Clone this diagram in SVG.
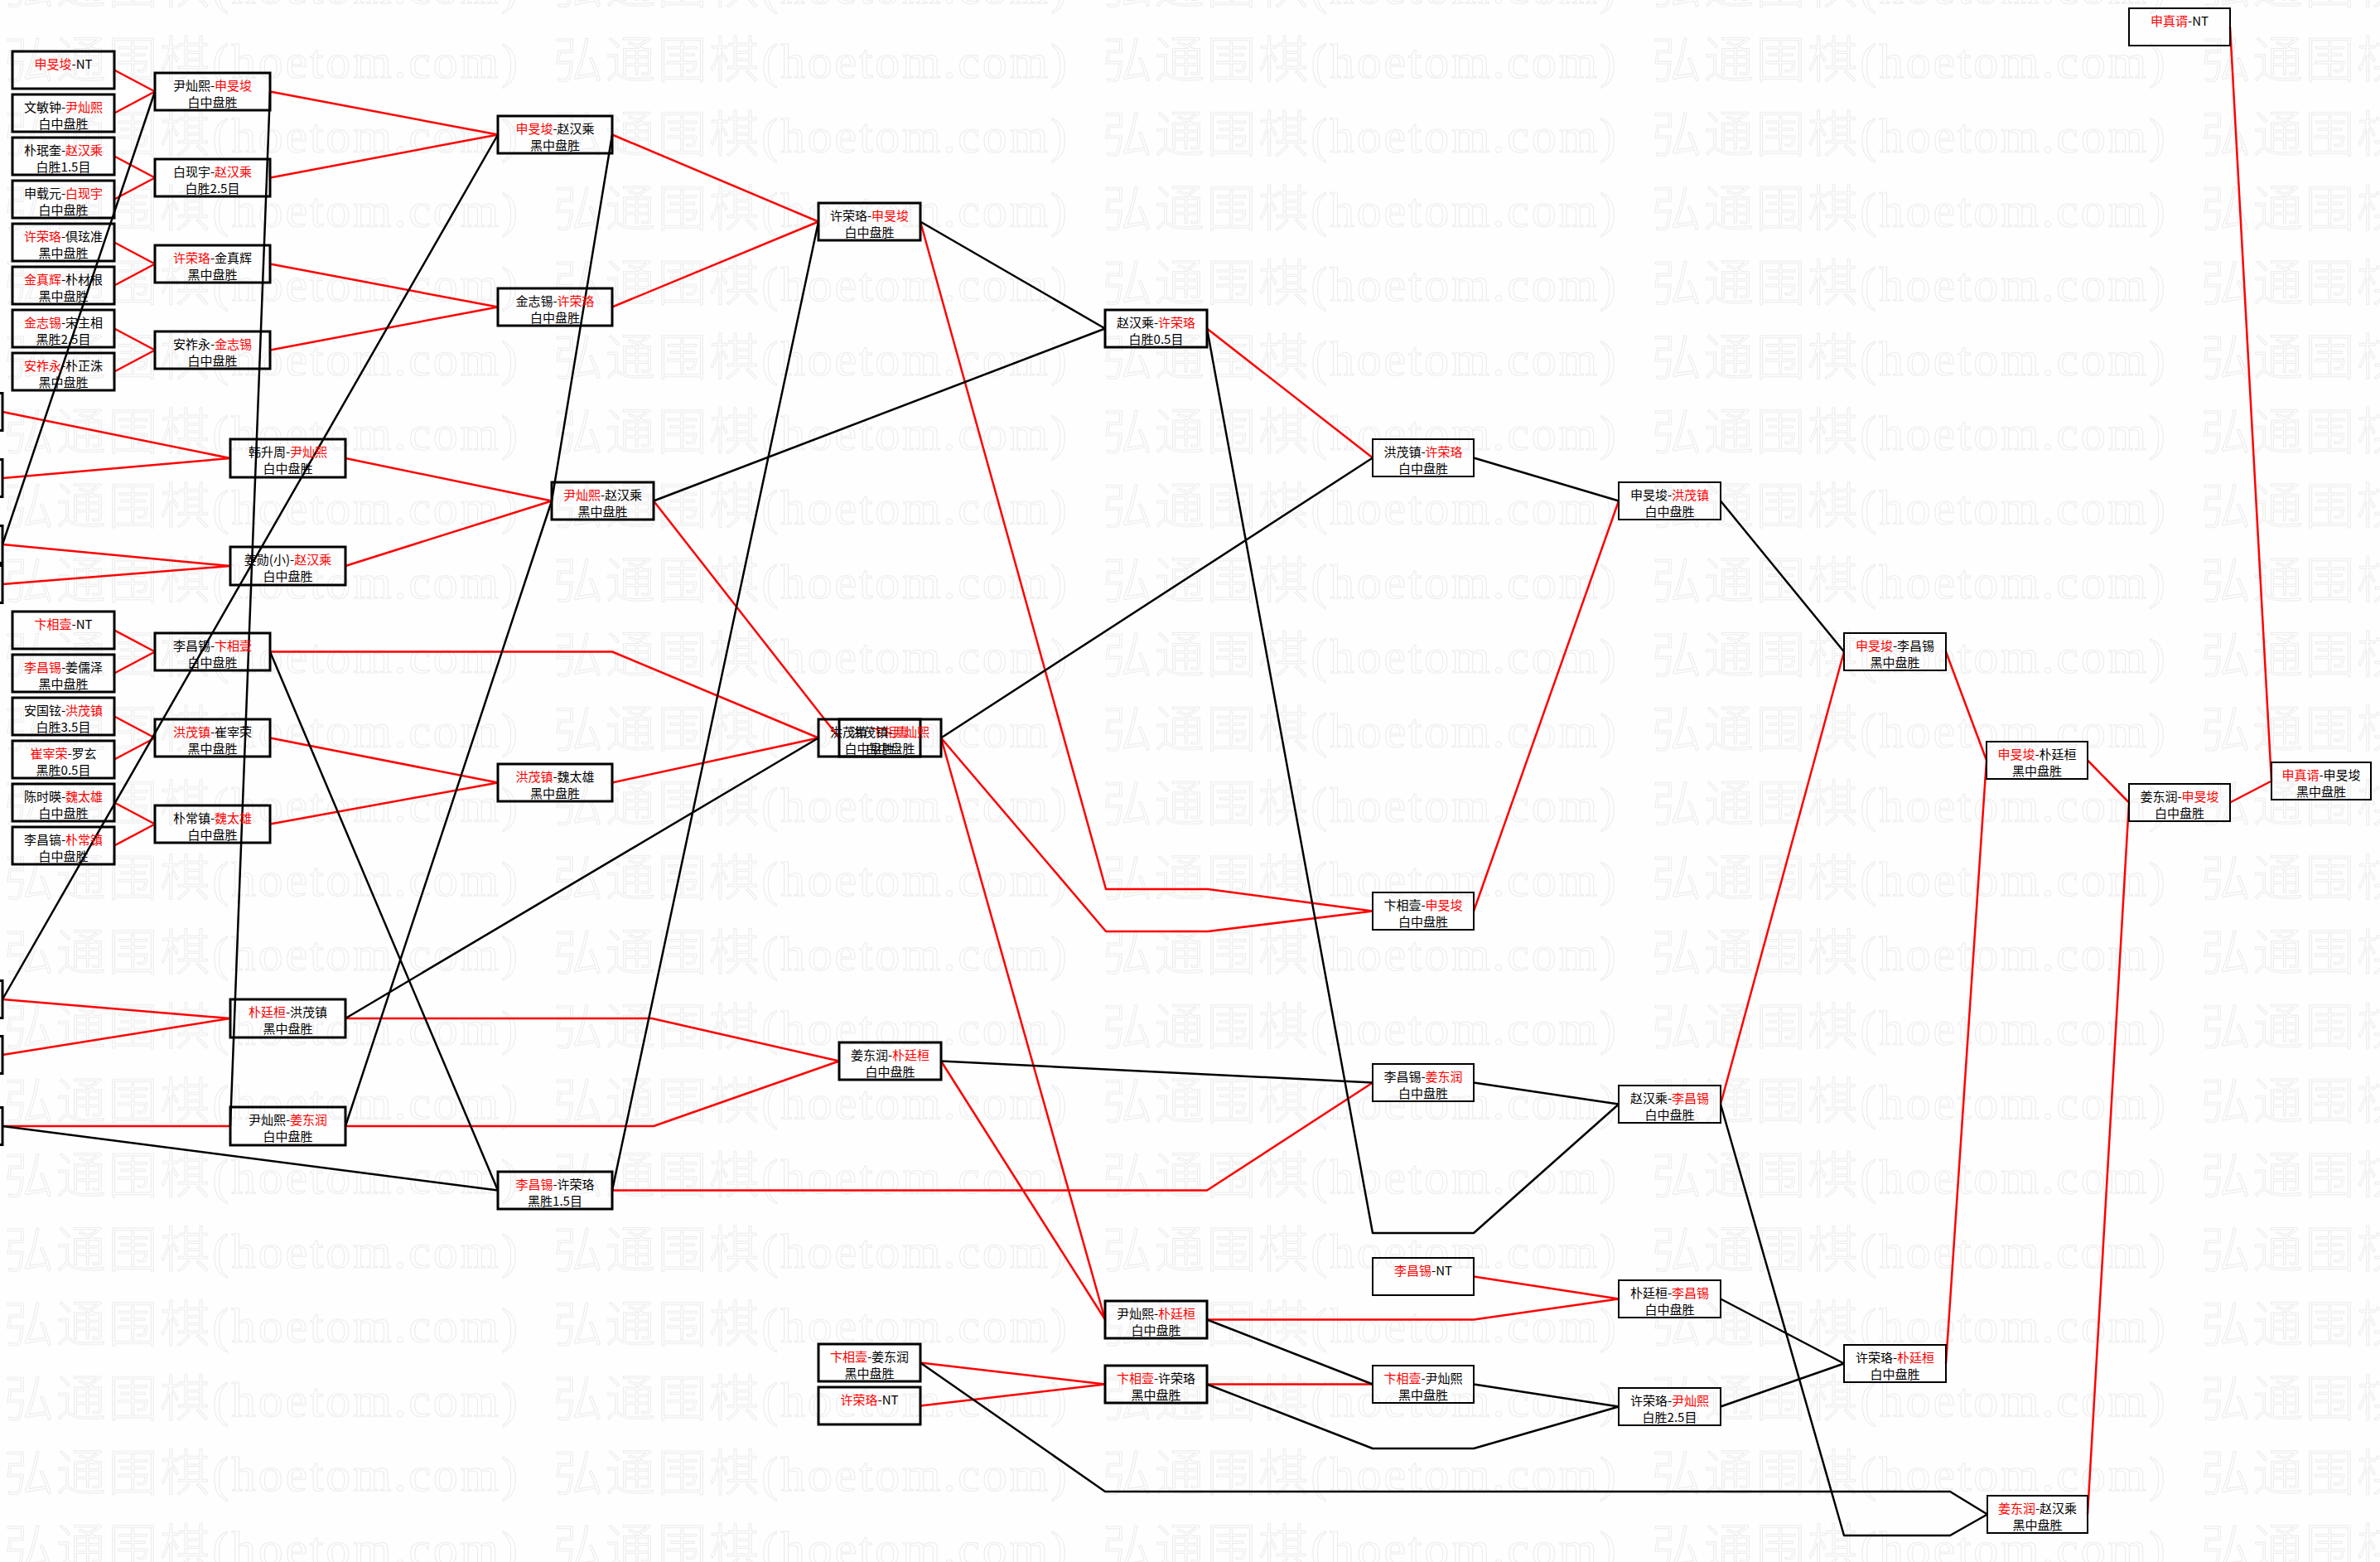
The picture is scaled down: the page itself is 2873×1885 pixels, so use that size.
<svg xmlns="http://www.w3.org/2000/svg" width="2873" height="1885" viewBox="0 0 2873 1885">
<style>
.n rect{fill:none;stroke:#000;stroke-width:3}
.s rect{stroke-width:2}
.t{font-family:"Noto Sans CJK SC","Noto Sans CJK JP",sans-serif;font-size:15px;fill:#000;text-anchor:middle}
.r{fill:#f00}
.lr{fill:none;stroke:#f00;stroke-width:2.5;stroke-linejoin:round}
.lb{fill:none;stroke:#000;stroke-width:2.5;stroke-linejoin:round}
.wm{font-family:"Liberation Serif","Noto Sans CJK SC",serif;font-size:60px;font-weight:300;fill:none;stroke:#ebebeb;stroke-width:1}
</style>
<defs>
<pattern id="wmp" patternUnits="userSpaceOnUse" x="5" y="36" width="663" height="89.75">
<text class="wm" x="0" y="58" textLength="620" lengthAdjust="spacing">弘通围棋(hoetom.com)</text>
</pattern>
</defs>
<rect x="0" y="0" width="2873" height="1885" fill="#fefefe"/>
<rect x="0" y="0" width="2873" height="1885" fill="url(#wmp)"/>
<g id="connectors">
<g class="lr">
<path d="M138 84.5L187 110.5M138 136.5L187 110.5M138 188.5L187 214.5M138 240.5L187 214.5M138 292.5L187 318.5M138 344.5L187 318.5M138 396.5L187 422.5M138 448.5L187 422.5"/>
<path d="M138 760.5L187 786.5M138 812.5L187 786.5M138 864.5L187 890.5M138 916.5L187 890.5M138 968.5L187 994.5M138 1020.5L187 994.5"/>
<path d="M326 110.5L601 162.5M326 214.5L601 162.5M326 318.5L601 370.5M326 422.5L601 370.5M739 162.5L988 267.5M739 370.5L988 267.5"/>
<path d="M3 497L278 553M3 577L278 553M3 657L278 683M3 705L278 683M417 553L666 604.5M417 683L666 604.5"/>
<path d="M326 890.5L601 944.5M326 994.5L601 944.5M326 786.5L739 786.5L988 890.5M739 944.5L988 890.5M789 604.5L1013 890.5"/>
<path d="M3 1206L278 1229M3 1273L278 1229M3 1359L278 1359M417 1229L787 1229L1013 1280.5M417 1359L789 1359L1013 1280.5"/>
<path d="M739 1436.5L1457 1436.5L1657 1306.5M1111 267.5L1335 1073L1458 1073L1657 1099.5M1136 890.5L1335 1124L1458 1124L1657 1099.5M1136 890.5L1334 1592.5M1136 1280.5L1334 1592.5"/>
<path d="M1457 396.5L1657 552.5M1779 1099.5L1954 604.5M2077 1332.5L2226 786.5M2349 786.5L2398 917.5M2349 1645.5L2398 917.5M2520 917.5L2570 968.5M2520 1827.5L2570 968.5M2692 968.5L2742 942.5M2692 32.5L2742 942.5"/>
<path d="M1779 1540.5L1954 1567.5M1457 1592.5L1779 1592.5L1954 1567.5M1111 1644.5L1334 1670.5M1111 1696.5L1334 1670.5M1457 1670.5L1657 1670.5"/>
</g>
<g class="lb">
<path d="M187 110.5L3 657M326 110.5L278 1359M601 162.5L3 1206M739 162.5L666 604.5L417 1359M326 786.5L601 1436.5M417 1229L988 890.5M739 1436.5L988 267.5M3 1359L601 1436.5"/>
<path d="M1111 267.5L1334 396.5M789 604.5L1334 396.5M1136 890.5L1657 552.5M1457 396.5L1657 1488L1779 1488L1954 1332.5M1779 552.5L1954 604.5M2077 604.5L2226 786.5"/>
<path d="M1136 1280.5L1657 1306.5M1779 1306.5L1954 1332.5M1457 1592.5L1657 1670.5M1457 1670.5L1657 1748L1779 1748L1954 1697.5M1779 1670.5L1954 1697.5M2077 1697.5L2226 1645.5M2077 1567.5L2226 1645.5"/>
<path d="M1111 1644.5L1334 1800L2354 1800L2399 1827.5M2077 1332.5L2226 1853L2354 1853L2399 1827.5"/>
</g>
</g>
<g id="edge-boxes" class="n">
<g id="x1"><rect x="-121" y="474.5" width="124" height="45"/></g>
<g id="x2"><rect x="-121" y="554.5" width="124" height="45"/></g>
<g id="x3"><rect x="-121" y="634.5" width="124" height="45"/></g>
<g id="x4"><rect x="-121" y="682.5" width="124" height="45"/></g>
<g id="x5"><rect x="-121" y="1183.5" width="124" height="45"/></g>
<g id="x6"><rect x="-121" y="1250.5" width="124" height="45"/></g>
<g id="x7"><rect x="-121" y="1336.5" width="124" height="45"/></g>
</g>
<g id="n1" class="n"><rect x="15" y="62" width="123" height="45"/><text class="t" x="76.5" y="83"><tspan class="r">申旻埈</tspan>-NT</text></g>
<g id="n2" class="n"><rect x="15" y="114" width="123" height="45"/><text class="t" x="76.5" y="135">文敏钟-<tspan class="r">尹灿熙</tspan></text><text class="t" x="76.5" y="155">白中盘胜</text></g>
<g id="n3" class="n"><rect x="15" y="166" width="123" height="45"/><text class="t" x="76.5" y="187">朴珉奎-<tspan class="r">赵汉乘</tspan></text><text class="t" x="76.5" y="207">白胜1.5目</text></g>
<g id="n4" class="n"><rect x="15" y="218" width="123" height="45"/><text class="t" x="76.5" y="239">申载元-<tspan class="r">白现宇</tspan></text><text class="t" x="76.5" y="259">白中盘胜</text></g>
<g id="n5" class="n"><rect x="15" y="270" width="123" height="45"/><text class="t" x="76.5" y="291"><tspan class="r">许荣珞</tspan>-倶玹准</text><text class="t" x="76.5" y="311">黑中盘胜</text></g>
<g id="n6" class="n"><rect x="15" y="322" width="123" height="45"/><text class="t" x="76.5" y="343"><tspan class="r">金真辉</tspan>-朴材根</text><text class="t" x="76.5" y="363">黑中盘胜</text></g>
<g id="n7" class="n"><rect x="15" y="374" width="123" height="45"/><text class="t" x="76.5" y="395"><tspan class="r">金志锡</tspan>-宋主相</text><text class="t" x="76.5" y="415">黑胜2.5目</text></g>
<g id="n8" class="n"><rect x="15" y="426" width="123" height="45"/><text class="t" x="76.5" y="447"><tspan class="r">安祚永</tspan>-朴正洙</text><text class="t" x="76.5" y="467">黑中盘胜</text></g>
<g id="n9" class="n"><rect x="15" y="738" width="123" height="45"/><text class="t" x="76.5" y="759"><tspan class="r">卞相壹</tspan>-NT</text></g>
<g id="n10" class="n"><rect x="15" y="790" width="123" height="45"/><text class="t" x="76.5" y="811"><tspan class="r">李昌锡</tspan>-姜儒泽</text><text class="t" x="76.5" y="831">黑中盘胜</text></g>
<g id="n11" class="n"><rect x="15" y="842" width="123" height="45"/><text class="t" x="76.5" y="863">安国铉-<tspan class="r">洪茂镇</tspan></text><text class="t" x="76.5" y="883">白胜3.5目</text></g>
<g id="n12" class="n"><rect x="15" y="894" width="123" height="45"/><text class="t" x="76.5" y="915"><tspan class="r">崔宰荣</tspan>-罗玄</text><text class="t" x="76.5" y="935">黑胜0.5目</text></g>
<g id="n13" class="n"><rect x="15" y="946" width="123" height="45"/><text class="t" x="76.5" y="967">陈时暎-<tspan class="r">魏太雄</tspan></text><text class="t" x="76.5" y="987">白中盘胜</text></g>
<g id="n14" class="n"><rect x="15" y="998" width="123" height="45"/><text class="t" x="76.5" y="1019">李昌镐-<tspan class="r">朴常镇</tspan></text><text class="t" x="76.5" y="1039">白中盘胜</text></g>
<g id="m1" class="n"><rect x="187" y="88" width="139" height="45"/><text class="t" x="256.5" y="109">尹灿熙-<tspan class="r">申旻埈</tspan></text><text class="t" x="256.5" y="129">白中盘胜</text></g>
<g id="m2" class="n"><rect x="187" y="192" width="139" height="45"/><text class="t" x="256.5" y="213">白现宇-<tspan class="r">赵汉乘</tspan></text><text class="t" x="256.5" y="233">白胜2.5目</text></g>
<g id="m3" class="n"><rect x="187" y="296" width="139" height="45"/><text class="t" x="256.5" y="317"><tspan class="r">许荣珞</tspan>-金真辉</text><text class="t" x="256.5" y="337">黑中盘胜</text></g>
<g id="m4" class="n"><rect x="187" y="400" width="139" height="45"/><text class="t" x="256.5" y="421">安祚永-<tspan class="r">金志锡</tspan></text><text class="t" x="256.5" y="441">白中盘胜</text></g>
<g id="m5" class="n"><rect x="187" y="764" width="139" height="45"/><text class="t" x="256.5" y="785">李昌锡-<tspan class="r">卞相壹</tspan></text><text class="t" x="256.5" y="805">白中盘胜</text></g>
<g id="m6" class="n"><rect x="187" y="868" width="139" height="45"/><text class="t" x="256.5" y="889"><tspan class="r">洪茂镇</tspan>-崔宰荣</text><text class="t" x="256.5" y="909">黑中盘胜</text></g>
<g id="m7" class="n"><rect x="187" y="972" width="139" height="45"/><text class="t" x="256.5" y="993">朴常镇-<tspan class="r">魏太雄</tspan></text><text class="t" x="256.5" y="1013">白中盘胜</text></g>
<g id="k1" class="n"><rect x="278" y="530" width="139" height="46"/><text class="t" x="347.5" y="551">韩升周-<tspan class="r">尹灿熙</tspan></text><text class="t" x="347.5" y="571">白中盘胜</text></g>
<g id="k2" class="n"><rect x="278" y="660" width="139" height="46"/><text class="t" x="347.5" y="681">姜勋(小)-<tspan class="r">赵汉乘</tspan></text><text class="t" x="347.5" y="701">白中盘胜</text></g>
<g id="k3" class="n"><rect x="278" y="1206" width="139" height="46"/><text class="t" x="347.5" y="1227"><tspan class="r">朴廷桓</tspan>-洪茂镇</text><text class="t" x="347.5" y="1247">黑中盘胜</text></g>
<g id="k4" class="n"><rect x="278" y="1336" width="139" height="46"/><text class="t" x="347.5" y="1357">尹灿熙-<tspan class="r">姜东润</tspan></text><text class="t" x="347.5" y="1377">白中盘胜</text></g>
<g id="c1" class="n"><rect x="601" y="140" width="138" height="45"/><text class="t" x="670" y="161"><tspan class="r">申旻埈</tspan>-赵汉乘</text><text class="t" x="670" y="181">黑中盘胜</text></g>
<g id="c2" class="n"><rect x="601" y="348" width="138" height="45"/><text class="t" x="670" y="369">金志锡-<tspan class="r">许荣珞</tspan></text><text class="t" x="670" y="389">白中盘胜</text></g>
<g id="c3" class="n"><rect x="601" y="922" width="138" height="45"/><text class="t" x="670" y="943"><tspan class="r">洪茂镇</tspan>-魏太雄</text><text class="t" x="670" y="963">黑中盘胜</text></g>
<g id="c4" class="n"><rect x="601" y="1414" width="138" height="45"/><text class="t" x="670" y="1435"><tspan class="r">李昌锡</tspan>-许荣珞</text><text class="t" x="670" y="1455">黑胜1.5目</text></g>
<g id="c5" class="n"><rect x="666" y="582" width="123" height="45"/><text class="t" x="727.5" y="603"><tspan class="r">尹灿熙</tspan>-赵汉乘</text><text class="t" x="727.5" y="623">黑中盘胜</text></g>
<g id="d1" class="n"><rect x="988" y="245" width="123" height="45"/><text class="t" x="1049.5" y="266">许荣珞-<tspan class="r">申旻埈</tspan></text><text class="t" x="1049.5" y="286">白中盘胜</text></g>
<g id="d2" class="n"><rect x="988" y="868" width="123" height="45"/><text class="t" x="1049.5" y="889">洪茂镇-<tspan class="r">卞相壹</tspan></text><text class="t" x="1049.5" y="909">白中盘胜</text></g>
<g id="d3" class="n"><rect x="1013" y="868" width="123" height="45"/><text class="t" x="1074.5" y="889">洪茂镇-<tspan class="r">尹灿熙</tspan></text><text class="t" x="1074.5" y="909">白中盘胜</text></g>
<g id="d4" class="n"><rect x="1013" y="1258" width="123" height="45"/><text class="t" x="1074.5" y="1279">姜东润-<tspan class="r">朴廷桓</tspan></text><text class="t" x="1074.5" y="1299">白中盘胜</text></g>
<g id="d5" class="n"><rect x="988" y="1622" width="123" height="45"/><text class="t" x="1049.5" y="1643"><tspan class="r">卞相壹</tspan>-姜东润</text><text class="t" x="1049.5" y="1663">黑中盘胜</text></g>
<g id="d6" class="n"><rect x="988" y="1674" width="123" height="45"/><text class="t" x="1049.5" y="1695"><tspan class="r">许荣珞</tspan>-NT</text></g>
<g id="e1" class="n"><rect x="1334" y="374" width="123" height="45"/><text class="t" x="1395.5" y="395">赵汉乘-<tspan class="r">许荣珞</tspan></text><text class="t" x="1395.5" y="415">白胜0.5目</text></g>
<g id="e2" class="n"><rect x="1334" y="1570" width="123" height="45"/><text class="t" x="1395.5" y="1591">尹灿熙-<tspan class="r">朴廷桓</tspan></text><text class="t" x="1395.5" y="1611">白中盘胜</text></g>
<g id="e3" class="n"><rect x="1334" y="1648" width="123" height="45"/><text class="t" x="1395.5" y="1669"><tspan class="r">卞相壹</tspan>-许荣珞</text><text class="t" x="1395.5" y="1689">黑中盘胜</text></g>
<g id="f1" class="n s"><rect x="1657" y="530" width="122" height="45"/><text class="t" x="1718" y="551">洪茂镇-<tspan class="r">许荣珞</tspan></text><text class="t" x="1718" y="571">白中盘胜</text></g>
<g id="f2" class="n s"><rect x="1657" y="1077" width="122" height="45"/><text class="t" x="1718" y="1098">卞相壹-<tspan class="r">申旻埈</tspan></text><text class="t" x="1718" y="1118">白中盘胜</text></g>
<g id="f3" class="n s"><rect x="1657" y="1284" width="122" height="45"/><text class="t" x="1718" y="1305">李昌锡-<tspan class="r">姜东润</tspan></text><text class="t" x="1718" y="1325">白中盘胜</text></g>
<g id="f4" class="n s"><rect x="1657" y="1518" width="122" height="45"/><text class="t" x="1718" y="1539"><tspan class="r">李昌锡</tspan>-NT</text></g>
<g id="f5" class="n s"><rect x="1657" y="1648" width="122" height="45"/><text class="t" x="1718" y="1669"><tspan class="r">卞相壹</tspan>-尹灿熙</text><text class="t" x="1718" y="1689">黑中盘胜</text></g>
<g id="g1" class="n s"><rect x="1954" y="582" width="123" height="45"/><text class="t" x="2015.5" y="603">申旻埈-<tspan class="r">洪茂镇</tspan></text><text class="t" x="2015.5" y="623">白中盘胜</text></g>
<g id="g2" class="n s"><rect x="1954" y="1310" width="123" height="45"/><text class="t" x="2015.5" y="1331">赵汉乘-<tspan class="r">李昌锡</tspan></text><text class="t" x="2015.5" y="1351">白中盘胜</text></g>
<g id="g3" class="n s"><rect x="1954" y="1545" width="123" height="45"/><text class="t" x="2015.5" y="1566">朴廷桓-<tspan class="r">李昌锡</tspan></text><text class="t" x="2015.5" y="1586">白中盘胜</text></g>
<g id="g4" class="n s"><rect x="1954" y="1675" width="123" height="45"/><text class="t" x="2015.5" y="1696">许荣珞-<tspan class="r">尹灿熙</tspan></text><text class="t" x="2015.5" y="1716">白胜2.5目</text></g>
<g id="h1" class="n s"><rect x="2226" y="764" width="123" height="45"/><text class="t" x="2287.5" y="785"><tspan class="r">申旻埈</tspan>-李昌锡</text><text class="t" x="2287.5" y="805">黑中盘胜</text></g>
<g id="h2" class="n s"><rect x="2226" y="1623" width="123" height="45"/><text class="t" x="2287.5" y="1644">许荣珞-<tspan class="r">朴廷桓</tspan></text><text class="t" x="2287.5" y="1664">白中盘胜</text></g>
<g id="i1" class="n s"><rect x="2398" y="895" width="122" height="45"/><text class="t" x="2459" y="916"><tspan class="r">申旻埈</tspan>-朴廷桓</text><text class="t" x="2459" y="936">黑中盘胜</text></g>
<g id="i2" class="n s"><rect x="2399" y="1805" width="121" height="45"/><text class="t" x="2459.5" y="1826"><tspan class="r">姜东润</tspan>-赵汉乘</text><text class="t" x="2459.5" y="1846">黑中盘胜</text></g>
<g id="j1" class="n s"><rect x="2570" y="10" width="122" height="45"/><text class="t" x="2631" y="31"><tspan class="r">申真谞</tspan>-NT</text></g>
<g id="j2" class="n s"><rect x="2570" y="946" width="122" height="45"/><text class="t" x="2631" y="967">姜东润-<tspan class="r">申旻埈</tspan></text><text class="t" x="2631" y="987">白中盘胜</text></g>
<g id="l1" class="n s"><rect x="2742" y="920" width="120" height="45"/><text class="t" x="2802" y="941"><tspan class="r">申真谞</tspan>-申旻埈</text><text class="t" x="2802" y="961">黑中盘胜</text></g>
</svg>
